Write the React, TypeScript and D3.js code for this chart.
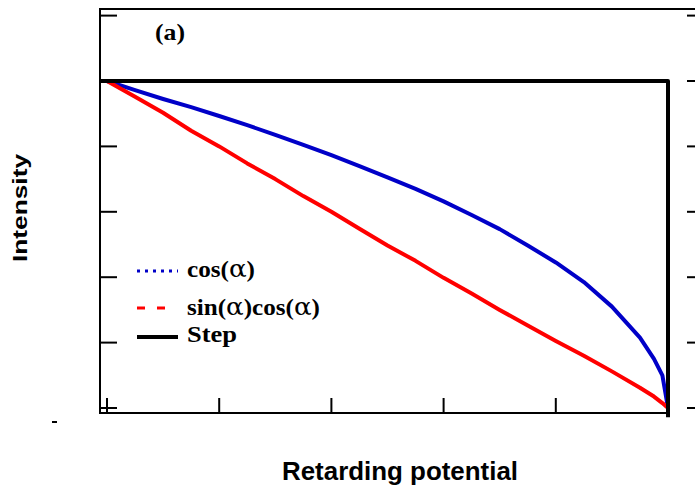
import { useEffect, useRef } from "react";
import * as d3 from "d3";

// retarding potential (normalised)
const potential = [0, 0.05, 0.1, 0.15, 0.2, 0.25, 0.3, 0.35, 0.4, 0.45, 0.5, 0.55, 0.6, 0.65, 0.7, 0.75, 0.8, 0.85, 0.9, 0.95, 0.975, 0.99, 1];
const cosAlpha = [1, 0.972, 0.945, 0.92, 0.893, 0.865, 0.835, 0.805, 0.773, 0.74, 0.705, 0.67, 0.632, 0.59, 0.547, 0.497, 0.445, 0.385, 0.31, 0.215, 0.15, 0.1, 0];
const sinCos = [1, 0.952, 0.903, 0.848, 0.8, 0.748, 0.7, 0.648, 0.6, 0.548, 0.497, 0.45, 0.398, 0.35, 0.3, 0.252, 0.205, 0.16, 0.112, 0.062, 0.035, 0.015, 0];
const stepX = [-0.0125, 1, 1];
const stepY = [1, 1, -0.028];
const yTicks = [0, 0.2, 0.4, 0.6, 0.8, 1.0, 1.2];
const xTicks = [0, 0.2, 0.4, 0.6, 0.8, 1.0];

const W = 695;
const H = 497;

export default function App() {
  const ref = useRef<SVGSVGElement | null>(null);

  useEffect(() => {
    const svg = d3.select(ref.current);
    svg.selectAll("*").remove();

    const x = d3.scaleLinear().domain([0, 1]).range([107, 668]);
    const y = d3.scaleLinear().domain([0, 1]).range([408, 81]);
    const axisX = 100;
    const axisY = 413;
    const serif = "'Liberation Serif', 'Times New Roman', serif";

    /* -------- frame -------- */
    svg.append("line")
      .attr("x1", axisX).attr("x2", W).attr("y1", 9).attr("y2", 9)
      .attr("stroke", "#000").attr("stroke-width", 2);
    svg.append("line")
      .attr("x1", axisX).attr("x2", axisX).attr("y1", 8).attr("y2", axisY + 1)
      .attr("stroke", "#000").attr("stroke-width", 2);
    svg.append("line")
      .attr("x1", axisX - 1).attr("x2", 670).attr("y1", axisY).attr("y2", axisY)
      .attr("stroke", "#000").attr("stroke-width", 2);

    // left ticks
    svg.append("g")
      .selectAll("line")
      .data(yTicks)
      .join("line")
      .attr("x1", axisX).attr("x2", axisX + 17)
      .attr("y1", (d) => y(d)).attr("y2", (d) => y(d))
      .attr("stroke", "#000").attr("stroke-width", 2);

    // right ticks
    svg.append("g")
      .selectAll("line")
      .data(yTicks)
      .join("line")
      .attr("x1", 687).attr("x2", W)
      .attr("y1", (d) => y(d)).attr("y2", (d) => y(d))
      .attr("stroke", "#000").attr("stroke-width", 2);

    // bottom ticks
    svg.append("g")
      .selectAll("line")
      .data(xTicks)
      .join("line")
      .attr("x1", (d) => x(d)).attr("x2", (d) => x(d))
      .attr("y1", axisY).attr("y2", axisY - 15)
      .attr("stroke", "#000").attr("stroke-width", 2);

    // stray mark bottom-left
    svg.append("line")
      .attr("x1", 52).attr("x2", 57).attr("y1", 422).attr("y2", 422)
      .attr("stroke", "#000").attr("stroke-width", 2);

    /* -------- curves -------- */
    const line = d3.line<[number, number]>()
      .x((d) => x(d[0]))
      .y((d) => y(d[1]));

    svg.append("path")
      .datum(potential.map((p, i) => [p, cosAlpha[i]] as [number, number]))
      .attr("d", line)
      .attr("fill", "none")
      .attr("stroke", "#0000c8")
      .attr("stroke-width", 4)
      .attr("stroke-linejoin", "round");

    svg.append("path")
      .datum(potential.map((p, i) => [p, sinCos[i]] as [number, number]))
      .attr("d", line)
      .attr("fill", "none")
      .attr("stroke", "#ff0000")
      .attr("stroke-width", 4)
      .attr("stroke-linejoin", "round");

    svg.append("path")
      .datum(stepX.map((p, i) => [p, stepY[i]] as [number, number]))
      .attr("d", line)
      .attr("fill", "none")
      .attr("stroke", "#000")
      .attr("stroke-width", 4)
      .attr("stroke-linejoin", "round");

    /* -------- panel label -------- */
    svg.append("text")
      .attr("x", 155).attr("y", 40)
      .attr("font-family", serif)
      .attr("font-weight", "bold")
      .attr("font-size", 23)
      .attr("textLength", 30)
      .attr("lengthAdjust", "spacingAndGlyphs")
      .text("(a)");

    /* -------- legend -------- */
    const legend = [
      { parts: ["cos(", "α", ")"], color: "#0000c8", dash: "3,5", x2: 178, y: 271, base: 277, len: 68 },
      { parts: ["sin(", "α", ")cos(", "α", ")"], color: "#ff0000", dash: "8,12", x2: 166, y: 308, base: 315, len: 133 },
      { parts: ["Step"], color: "#000", dash: null, x2: 178, y: 337, base: 342, len: 50 },
    ];
    const lg = svg.append("g");
    legend.forEach((l) => {
      lg.append("line")
        .attr("x1", 137).attr("x2", l.x2)
        .attr("y1", l.y).attr("y2", l.y)
        .attr("stroke", l.color)
        .attr("stroke-width", l.dash ? 3 : 4)
        .attr("stroke-dasharray", l.dash);
      const t = lg.append("text")
        .attr("x", 187).attr("y", l.base)
        .attr("font-family", serif)
        .attr("font-weight", "bold")
        .attr("font-size", 24)
        .attr("textLength", l.len)
        .attr("lengthAdjust", "spacingAndGlyphs");
      l.parts.forEach((p) => {
        const s = t.append("tspan").text(p);
        if (p === "α") s.attr("font-size", 25).attr("font-family", "'DejaVu Serif', serif").attr("font-weight", "normal");
      });
    });

    /* -------- axis titles -------- */
    svg.append("text")
      .attr("x", 400).attr("y", 480)
      .attr("text-anchor", "middle")
      .attr("font-family", "'Liberation Sans', Arial, sans-serif")
      .attr("font-weight", "bold")
      .attr("font-size", 25)
      .attr("textLength", 236)
      .attr("lengthAdjust", "spacingAndGlyphs")
      .text("Retarding potential");

    svg.append("text")
      .attr("transform", "translate(27,208) rotate(-90)")
      .attr("text-anchor", "middle")
      .attr("font-family", "'Liberation Sans', Arial, sans-serif")
      .attr("font-weight", "bold")
      .attr("font-size", 20)
      .attr("textLength", 108)
      .attr("lengthAdjust", "spacingAndGlyphs")
      .text("Intensity");
  }, []);

  return (
    <svg
      ref={ref}
      width={W}
      height={H}
      viewBox={`0 0 ${W} ${H}`}
      style={{ position: "absolute", left: 0, top: 0, background: "#fff" }}
    />
  );
}
